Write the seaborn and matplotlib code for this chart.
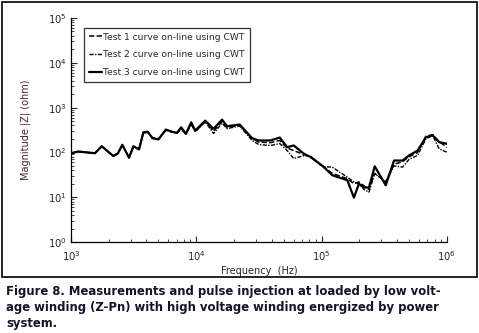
import matplotlib
matplotlib.use("Agg")
import matplotlib.pyplot as plt
from matplotlib.patches import Rectangle
from matplotlib.ticker import LogLocator, LogFormatterMathtext, NullFormatter
import seaborn as sns

# frequency points (Hz) shared by the three tests
freq = [1000, 1144, 1556, 1762, 2179, 2364, 2572, 2911, 3150, 3500,
        3786, 4108, 4470, 4990, 5725, 6395, 7013, 7586, 8270, 9120,
        9817, 10430, 11800, 13750, 16060, 17620, 22190, 27920, 31500, 39080,
        46370, 53190, 60000, 72130, 81660, 104300, 121900, 160600, 181100, 198600,
        217800, 238800, 265500, 325100, 378400, 442600, 498900, 583400, 679200, 769100,
        867000, 1000000]

test1 = [96, 104, 97, 136, 84, 95, 145, 78, 135, 118,
         275, 285, 210, 198, 318, 292, 270, 345, 265, 440,
         300, 350, 500, 300, 490, 360, 400, 205, 170, 165,
         185, 125, 110, 90, 80, 48, 34, 26, 20, 22,
         18, 15, 34, 22, 55, 62, 80, 100, 230, 250,
         175, 130]
test2 = [95, 103, 96, 135, 85, 96, 143, 79, 133, 119,
         270, 280, 212, 200, 310, 285, 265, 330, 255, 420,
         290, 340, 480, 265, 450, 340, 390, 185, 150, 143,
         158, 110, 73, 85, 82, 48, 47, 28, 22, 20,
         15, 13, 34, 22, 50, 47, 70, 86, 200, 240,
         120, 101]
test3 = [96, 105, 96, 138, 83, 94, 148, 76, 138, 117,
         282, 290, 208, 195, 324, 290, 275, 364, 260, 470,
         308, 364, 512, 336, 540, 385, 420, 208, 185, 185,
         215, 131, 143, 94, 79, 47, 31, 24, 9.8, 20,
         16.5, 16.5, 49, 18.5, 66, 66, 86, 110, 218, 240,
         170, 156]

labels = ["Test 1 curve on-line using CWT",
          "Test 2 curve on-line using CWT",
          "Test 3 curve on-line using CWT"]

caption = ["Figure 8. Measurements and pulse injection at loaded by low volt-",
           "age winding (Z-Pn) with high voltage winding energized by power",
           "system."]

sns.set_theme(style="ticks")
plt.rcParams["font.family"] = ["DejaVu Sans"]

fig = plt.figure(figsize=(4.79, 3.33), dpi=100)
ax = fig.add_axes([0.148, 0.273, 0.785, 0.673])

styles = [
    dict(linestyle=(0, (3.5, 1.5)), linewidth=1.1),
    dict(linestyle=(0, (3, 1, 1, 1)), linewidth=1.0),
    dict(linestyle="-", linewidth=1.6),
]
for series, label, st in zip([test1, test2, test3], labels, styles):
    sns.lineplot(x=freq, y=series, ax=ax, color="black", label=label, **st)

ax.set_xscale("log")
ax.set_yscale("log")
ax.set_xlim(1e3, 1e6)
ax.set_ylim(1, 1e5)
for axis in (ax.xaxis, ax.yaxis):
    axis.set_major_locator(LogLocator(base=10, numticks=10))
    axis.set_major_formatter(LogFormatterMathtext())
    axis.set_minor_locator(LogLocator(base=10, subs=range(2, 10), numticks=10))
    axis.set_minor_formatter(NullFormatter())
ax.tick_params(which="major", direction="in", length=4, width=0.8, labelsize=7.2)
ax.tick_params(axis="x", which="major", pad=5)
ax.tick_params(axis="y", which="major", pad=3)
ax.tick_params(which="minor", direction="in", length=2, width=0.6)
sns.despine(ax=ax)
for s in ("left", "bottom"):
    ax.spines[s].set_linewidth(0.9)
    ax.spines[s].set_color("black")

ax.set_xlabel("Frequency  (Hz)", fontsize=7, labelpad=2)
ax.set_ylabel("Magnitude |Z| (ohm)", fontsize=7, color="#4a2035", labelpad=12)

leg = ax.legend(loc="upper left", bbox_to_anchor=(0.035, 0.955), fontsize=6.6,
                frameon=True, fancybox=False, handlelength=1.5, handletextpad=0.1,
                borderpad=0.5, labelspacing=0.95, borderaxespad=0)
leg.get_frame().set_edgecolor("black")
leg.get_frame().set_linewidth(0.9)

# outer frame around the plot area
fig.patches.append(Rectangle((2 / 479, 1 - 277 / 333), 475 / 479, 275 / 333,
                             transform=fig.transFigure, fill=False,
                             edgecolor="black", linewidth=1.2))

for i, line in enumerate(caption):
    fig.text(6 / 479, 1 - (291 + 16 * i) / 333, line, fontsize=8.4,
             fontweight="bold", color="#141428", va="center", ha="left")

fig.savefig("out.png", dpi=100)
